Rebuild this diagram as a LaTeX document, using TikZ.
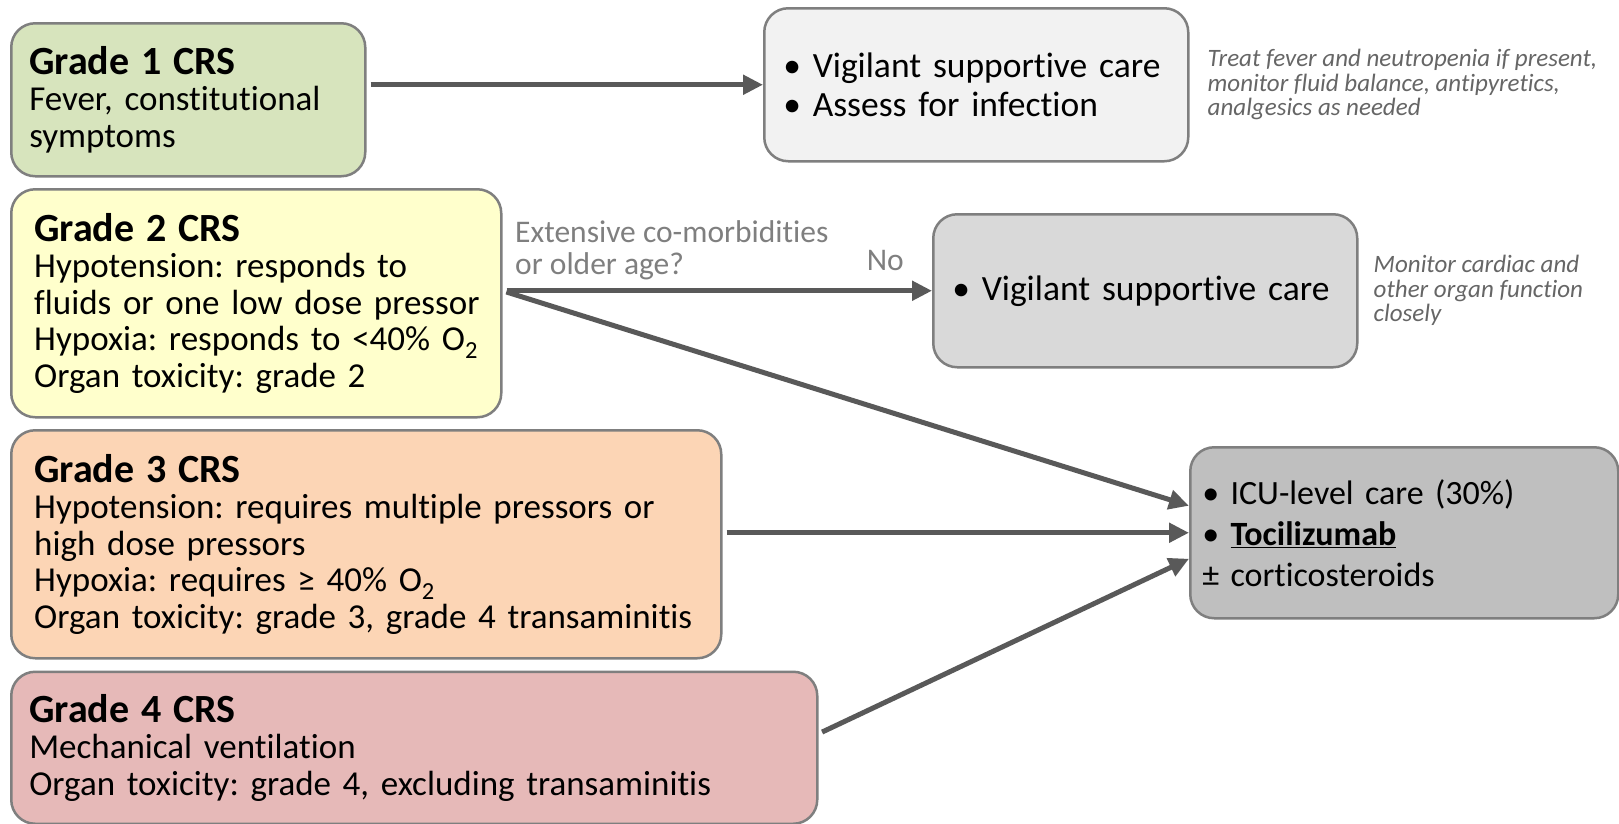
\documentclass[tikz,border=0pt]{standalone}
\usepackage{fontspec}
\setmainfont{Carlito}[Ligatures=NoCommon]
\usetikzlibrary{positioning, arrows.meta}
\frenchspacing

\definecolor{gone}{HTML}{D7E4BD}
\definecolor{gtwo}{HTML}{FFFFCC}
\definecolor{gthree}{HTML}{FCD5B5}
\definecolor{gfour}{HTML}{E6B9B8}
\definecolor{careone}{HTML}{F2F2F2}
\definecolor{caretwo}{HTML}{D9D9D9}
\definecolor{carethree}{HTML}{BFBFBF}
\definecolor{boxline}{HTML}{7F7F7F}
\definecolor{arrowgray}{HTML}{595959}
\definecolor{notegray}{HTML}{666666}
\definecolor{askgray}{HTML}{7F7F7F}

\tikzset{
	box/.style={draw=boxline, line width=2.5pt, rounded corners=24pt, align=left,
		inner ysep=4pt, anchor=north west, font=\fontsize{35}{36.5}\selectfont},
	care/.style={box, font=\fontsize{35.5}{39.5}\selectfont},
	note/.style={align=left, inner sep=0pt, text=notegray, font=\fontsize{25}{24.5}\selectfont\itshape},
	ask/.style={align=left, inner sep=0pt, text=askgray, font=\fontsize{31.5}{32}\selectfont},
	arr/.style={draw=arrowgray, line width=5pt, shorten <=4pt, -{Triangle[length=20pt, width=19pt]}},
}
\newcommand{\gtitle}[1]{{\fontsize{40}{40}\selectfont\bfseries #1}}

\begin{document}
\begin{tikzpicture}[x=1pt, y=-1pt]
	\useasboundingbox (0,0) rectangle (1619,823);
	\fill[white] (0,0) rectangle (1619,823);

	% grades
	\node[box, fill=gone, inner xsep=18pt, text width=318pt, minimum height=153pt] (g1) at (10,22)
		{\gtitle{Grade 1 CRS}\\Fever, constitutional\\symptoms};
	\node[box, fill=gtwo, inner xsep=23pt, text width=444pt, minimum height=228pt,
		below right=10.5pt and 0pt of g1.south west] (g2)
		{\gtitle{Grade 2 CRS}\\Hypotension: responds to\\\mbox{fluids or one low dose pressor}\\Hypoxia: responds to <40\% O\textsubscript{2}\\Organ toxicity: grade 2};
	\node[box, fill=gthree, inner xsep=23pt, text width=664pt, minimum height=228pt,
		below right=10.5pt and 0pt of g2.south west] (g3)
		{\gtitle{Grade 3 CRS}\\Hypotension: requires multiple pressors or\\high dose pressors\\Hypoxia: requires ≥ 40\% O\textsubscript{2}\\Organ toxicity: grade 3, grade 4 transaminitis};
	\node[box, fill=gfour, inner xsep=18pt, text width=770pt, minimum height=152pt,
		below right=11pt and 0pt of g3.south west] (g4)
		{\gtitle{Grade 4 CRS}\\Mechanical ventilation\\Organ toxicity: grade 4, excluding transaminitis};

	% care
	\node[care, fill=careone, inner xsep=19pt, text width=386pt, minimum height=153pt] (A) at (763,7)
		{\textbullet\ Vigilant supportive care\\\textbullet\ Assess for infection};
	\node[care, fill=caretwo, inner xsep=19pt, text width=386pt, minimum height=153pt] (B) at (932,213)
		{\textbullet\ Vigilant supportive care};
	\node[box, fill=carethree, inner xsep=12pt, text width=404pt, minimum height=171pt,
		font=\fontsize{34}{41}\selectfont] (C) at (1189,446)
		{\textbullet\ ICU-level care (30\%)\\\textbullet\ \underline{\textbf{Tocilizumab}}\\± corticosteroids};

	% notes
	\node[note, right=18pt of A] (nA) {Treat fever and neutropenia if present,\\monitor fluid balance, antipyretics,\\analgesics as needed};
	\node[note, right=15pt of B] (nB) {Monitor cardiac and\\other organ function\\closely};
	\node[ask, anchor=north west] (q) at (515,220) {Extensive co-morbidities\\or older age?};
	\node[ask, anchor=base east] (no) at (904,270) {No};

	% arrows
	\coordinate (c2) at ([yshift=27pt]C.west);
	\coordinate (c4) at ([yshift=-26pt]C.west);
	\draw[arr] (g1.east |- A.west) -- (A.west);
	\draw[arr] (g2.east |- B.west) -- (B.west);
	\draw[arr] (g2.east |- B.west) -- (c2);
	\draw[arr] (g3.east |- C.west) -- (C.west);
	\draw[arr] ([yshift=14pt]g4.east) -- (c4);
\end{tikzpicture}
\end{document}
